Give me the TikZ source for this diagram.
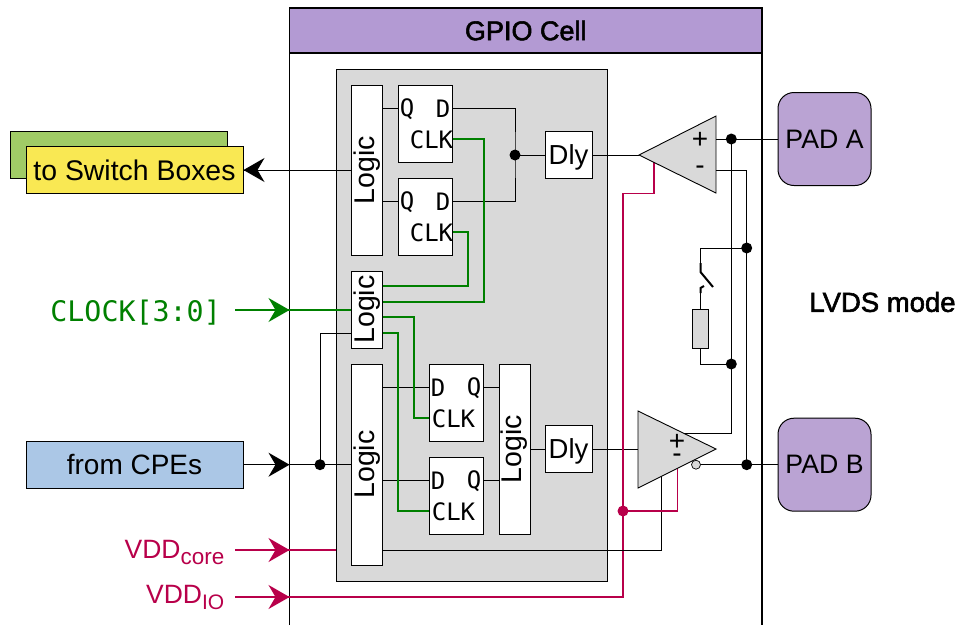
\documentclass[tikz,border=0pt]{standalone}
\usepackage{fontspec}
\setmainfont{Liberation Sans}
\newfontfamily\medfont[FakeBold=2]{Liberation Sans}
\newfontfamily\monofont{DejaVu Sans Mono}
\usetikzlibrary{arrows.meta}
\definecolor{cellpurple}{HTML}{B39AD3}
\definecolor{padpurple}{HTML}{BAA3D3}
\definecolor{graybg}{HTML}{D9D9D9}
\definecolor{clkgreen}{HTML}{008000}
\definecolor{pwr}{HTML}{B8004A}
\definecolor{swgreen}{HTML}{A0CB66}
\definecolor{swyellow}{HTML}{F9E853}
\definecolor{cpeblue}{HTML}{ABC7E6}
\newcommand{\fs}[1]{\fontsize{#1}{#1}\selectfont}
\tikzset{
  x=1pt,y=-1pt,
  box/.style={draw=black,line width=1pt,fill=white,inner sep=0pt,font=\fs{27.5}},
  ffbox/.style={box,minimum width=54,minimum height=77},
  logicbox/.style={box,minimum width=31},
  dlybox/.style={box,minimum width=47,minimum height=47,text depth=0pt},
  padbox/.style={draw=black,line width=1pt,fill=padpurple,rounded corners=16,minimum width=93,minimum height=93,inner sep=0pt,font=\fs{26.7}},
  ext/.style={draw=black,line width=1pt,inner sep=0pt,minimum width=217,minimum height=47,font=\fs{28.4}},
  pin/.style={inner sep=0pt,font=\monofont\fs{24}},
  wire/.style={line width=1pt,draw=black},
  gwire/.style={line width=1.1pt,draw=clkgreen},
  pwire/.style={line width=1.1pt,draw=pwr},
  bigarrow/.style={-{Stealth[length=21pt,width=24pt,inset=7pt]}},
  dot/.style={circle,fill=black,inner sep=0pt,minimum size=11},
  amp/.style={draw=black,line width=0.9pt,fill=graybg,line join=miter},
  sign/.style={inner sep=0pt,font=\fs{28}},
  lbl/.style={inner sep=0pt,anchor=base east},
}
\newcommand{\logictext}{\rotatebox{90}{\fs{28.5}Logic}\hspace{-2pt}}
\begin{document}
\begin{tikzpicture}
\useasboundingbox (0,0) rectangle (958,625);
% GPIO cell
\draw[line width=1.2pt] (289.5,625) -- (289.5,8) -- (762,8) -- (762,625);
\node[draw=black,line width=1.2pt,fill=cellpurple,minimum width=472.5,minimum height=45,inner sep=0pt,font=\medfont\fs{27}] (hdr) at (525.75,30.5) {GPIO Cell};
\node[draw=black,line width=1pt,fill=graybg,minimum width=271.5,minimum height=511.5,inner sep=0pt] (core) at (471.75,325.25) {};
% External boxes
\node[ext,fill=swgreen] (swb) at (118.75,154.5) {};
\node[ext,fill=swyellow] (sw) at (134.5,170) {to Switch Boxes};
\node[ext,fill=cpeblue,font=\fs{28}] (cpe) at (134.5,464.7) {from CPEs};
% Logic boxes
\node[logicbox,minimum height=170] (lg1) at (367,170) {\logictext};
\node[logicbox,minimum height=77] (lg2) at (367,309.5) {\logictext};
\node[logicbox,minimum height=201] (lg3) at (367,464.5) {\logictext};
\node[logicbox,minimum height=170] (lg4) at (514.5,449) {\logictext};
% Flip-flops
\node[ffbox] (ff1) at (425,123.5) {};
\node[ffbox] (ff2) at (425,216.5) {};
\node[ffbox] (ff3) at (456,402.5) {};
\node[ffbox] (ff4) at (456,495.5) {};
\node[pin] (q1) at (407,109) {Q};
\node[pin] (d1) at (443,109) {D};
\node[pin] (c1) at (431.5,140) {CLK};
\node[pin] (q2) at (407,202) {Q};
\node[pin] (d2) at (443,202) {D};
\node[pin] (c2) at (431.5,233) {CLK};
\node[pin] (d3) at (438,388) {D};
\node[pin] (q3) at (474,388) {Q};
\node[pin] (c3) at (453.5,419) {CLK};
\node[pin] (d4) at (438,481) {D};
\node[pin] (q4) at (474,481) {Q};
\node[pin] (c4) at (453.5,512) {CLK};
% Delay
\node[dlybox] (dly1) at (568.5,155) {Dly};
\node[dlybox] (dly2) at (568.5,449) {Dly};
% Pads
\node[padbox] (pada) at (824.5,139) {PAD A};
\node[padbox] (padb) at (824.5,464.7) {PAD B};
% Amplifiers
\coordinate (aapex) at (639,155);
\coordinate (atop) at (716,116);
\coordinate (abot) at (716,193);
\coordinate (bapex) at (716,449);
\coordinate (btop) at (638,411);
\coordinate (bbot) at (638,488);
% Junctions
\node[dot] (j1) at (515,155) {};
\node[dot] (j2) at (320,464.7) {};
\node[dot] (j3) at (731.3,139) {};
\node[dot] (j4) at (746.7,248) {};
\node[dot] (j5) at (731.3,364) {};
\node[dot] (j6) at (746.7,464.7) {};
\node[dot,fill=pwr] (j7) at (623,511) {};
\node[draw=black,line width=0.7pt,fill=graybg,circle,minimum size=9,inner sep=0pt] (bub) at (696,464.7) {};
\coordinate (lcl) at (235,310);
\coordinate (lvc) at (235,550);
\coordinate (lvi) at (235,597);
% Black wires
\draw[wire] (lg1.west |- 0,170) -- (sw.east |- 0,170);
\draw[wire] (lg1.east |- 0,108) -- (ff1.west |- 0,108);
\draw[wire] (lg1.east |- 0,201) -- (ff2.west |- 0,201);
\draw[wire] (ff1.east |- 0,108) -| (j1.center) |- (ff2.east |- 0,201);
\draw[wire] (j1.center) -- (dly1.west);
\draw[wire] (dly1.east) -- (aapex);
\draw[wire] (cpe.east) -- (lg3.west |- cpe.east);
\draw[wire] (j2.center) |- (lg2.west |- 0,333);
\draw[wire] (lg3.east |- 0,387) -- (ff3.west |- 0,387);
\draw[wire] (lg3.east |- 0,480) -- (ff4.west |- 0,480);
\draw[wire] (ff3.east |- 0,387) -- (lg4.west |- 0,387);
\draw[wire] (ff4.east |- 0,480) -- (lg4.west |- 0,480);
\draw[wire] (lg4.east |- dly2) -- (dly2.west);
\draw[wire] (dly2.east) -- (btop |- dly2);
% Green wires
\draw[gwire] (ff1.east |- 0,139) -| (484,302) -- (lg2.east |- 0,302);
\draw[gwire] (ff2.east |- 0,232) -| (468,286) -- (lg2.east |- 0,286);
\draw[gwire] (lg2.east |- 0,317) -| (414,418) -- (ff3.west |- 0,418);
\draw[gwire] (lg2.east |- 0,333) -| (398,511) -- (ff4.west |- 0,511);
\draw[gwire] (lcl) -- (lg2.west |- lcl);
% Power wires
\draw[pwire] (lvc) -- (core.west |- lvc);
\draw[pwire] (lvi) -| (j7.center) -- (623,193.5) -| (654,162);
\draw[wire] (lg3.east |- lvc) -| (661.7,476);
\draw[pwire] (j7.center) -| (677.3,468);
% Amplifier bodies
\draw[amp] (aapex) -- (atop) -- (abot) -- cycle;
\draw[amp] (bapex) -- (btop) -- (bbot) -- cycle;
\node[sign] (pa) at (700,140) {+};
\node[sign] (ma) at (700,170) {-};
\node[sign] (pb) at (677,442) {+};
\node[sign] (mb) at (677,458) {-};
% Right wires
\draw[wire] (716,139) -- (pada.west |- 0,139);
\draw[wire] (716,170) -| (j6.center);
\draw[wire] (j3.center) -- (731.3,433.7) -- (684,433.7);
\draw[wire] (bub) -- (padb.west);
% Switch and resistor
\node[draw=black,line width=1pt,fill=graybg,minimum width=16,minimum height=39.5,inner sep=0pt] (res) at (700.5,328.75) {};
\coordinate (swt) at (700.5,263);
\coordinate (swb2) at (700.5,293);
\draw[wire] (j4.center) -| (swt);
\draw[line width=2pt] (swt) -- (700.5,272) -- (713,287);
\draw[wire] (swb2) -- (res.north);
\draw[line width=2pt] (swb2) -- (700.5,288) -- (704,286);
\draw[wire] (res.south) |- (j5.center);
% Arrows
\draw[wire,bigarrow] (351.5,170) -- (sw.east |- 0,170);
\draw[wire,bigarrow] (cpe.east) -- (289.5,464.7);
\draw[gwire,bigarrow] (lcl) -- (289.5,310);
\draw[pwire,bigarrow] (lvc) -- (289.5,550);
\draw[pwire,bigarrow] (lvi) -- (289.5,597);
% Labels
\node[inner sep=0pt,anchor=base east,text=clkgreen,font=\monofont\fs{28.3}] (clk) at (221,321) {CLOCK[3:0]};
\node[lbl,text=pwr,font=\fs{26.5}] (vc) at (224.5,558) {VDD\raisebox{-6pt}{\fs{22.5}core}};
\node[lbl,text=pwr,font=\fs{26.5}] (vi) at (224.5,603) {VDD\raisebox{-6pt}{\fs{21}IO}};
\node[inner sep=0pt,font=\medfont\fs{27.5}] (lv) at (882.5,302) {LVDS mode};
\end{tikzpicture}
\end{document}
